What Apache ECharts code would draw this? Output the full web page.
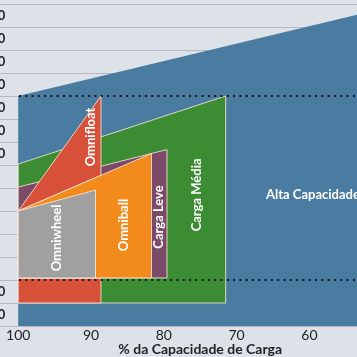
<!DOCTYPE html>
<html><head><meta charset="utf-8">
<script src="https://cdn.jsdelivr.net/npm/echarts@6/dist/echarts.min.js"></script>
<style>html,body{margin:0;padding:0;background:#dde2e9}#c{width:357px;height:357px}</style>
</head><body><div id="c"></div>
<script>
// ---- data (x: % da capacidade de carga, y: row units) ----
const rowLabels = ['10','20','','','','','','80','90','100','110','120','130','140'];
const altaCapacidade = [[100,0],[100,10],[50,13.8],[50,0]];
const cargaMedia = [[100,7.04],[71.5,10],[71.5,1],[100,1]];
const cargaLeve = [[100,6.04],[79.56,7.67],[79.56,2.09],[100,2.09]];
const omnifloat = [[100,5],[88.63,10],[88.63,6.55]];
const omnifloatBase = [[100,1],[88.63,1],[88.63,2.09],[100,2.09]];
const omniball = [[100,5],[81.69,7.5],[81.69,2.09],[100,2.09]];
const omniwheel = [[100,5],[89.38,5.91],[89.38,2.09],[100,2.09]];
const limitLevels = [10, 2];
const lineExtent = [102.5, 50];

// ---- layout ----
const FONT = 'Lato, "Open Sans", sans-serif';
const labelAnchor = {
  alta: [65.96, 5.7], media: [75.44, 5.7], leve: [80.66, 4.74],
  ball: [85.47, 4.39], wheel: [94.67, 3.83], float: [90.0, 8.22]
};
const BORDER = 'rgba(255,238,220,0.8)';

function shape(name, pts, color, label, anchor, vertical, align, stroke) {
  return {
    type: 'custom', name, coordinateSystem: 'cartesian2d', xAxisIndex: 0, yAxisIndex: 0,
    silent: true, clip: false,
    data: [anchor || pts[0]],
    renderItem: function (params, api) {
      const points = pts.map(p => api.coord(p));
      const children = [{ type: 'polygon', shape: { points },
        style: { fill: color, stroke: stroke === false ? null : BORDER, lineWidth: 1 } }];
      if (label) {
        const c = api.coord(anchor);
        children.push({ type: 'text', x: c[0], y: c[1], rotation: vertical ? Math.PI / 2 : 0, z2: 10,
          style: { text: label, fill: '#ffffff', font: 'bold 13px ' + FONT,
            align: align || 'center', verticalAlign: 'middle' } });
      }
      return { type: 'group', children };
    }
  };
}
function dotted(level) {
  return { type: 'line', xAxisIndex: 0, yAxisIndex: 0, silent: true, clip: false, showSymbol: false, symbol: 'none',
    data: [[lineExtent[0], level], [lineExtent[1], level]],
    lineStyle: { color: '#151515', width: 2, type: [2, 4.3] } };
}

const chart = echarts.init(document.getElementById('c'), null, { renderer: 'canvas' });
chart.setOption({
  backgroundColor: '#dde2e9',
  animation: false,
  grid: { left: 18.2, right: -25.2, top: 4, bottom: 31, containLabel: false, outerBoundsMode: 'none' },
  xAxis: {
    type: 'value', inverse: true, min: 50, max: 100, interval: 10,
    axisLine: { show: false }, axisTick: { show: false }, splitLine: { show: false },
    axisLabel: { color: '#222', fontSize: 14, margin: 2, fontFamily: FONT },
    name: '% da Capacidade de Carga', nameLocation: 'middle', nameGap: 16, nameMoveOverlap: false,
    nameTextStyle: { color: '#222', fontSize: 14, fontWeight: 'bold', fontFamily: FONT }
  },
  yAxis: [
    { type: 'value', min: 0, max: 14, show: false, splitLine: { show: false } },
    { type: 'category', data: rowLabels, position: 'left',
      axisLine: { show: false },
      axisTick: { show: true, length: 18, lineStyle: { color: '#b6bbc3', width: 1 } },
      splitLine: { show: true, lineStyle: { color: '#b6bbc3', width: 1 } },
      axisLabel: { color: '#222', fontSize: 13, fontWeight: 'bold', margin: 13, fontFamily: FONT } }
  ],
  series: [
    shape('Alta Capacidade', altaCapacidade, '#4a7ba0', 'Alta Capacidade', labelAnchor.alta, false, 'left', false),
    shape('Carga Média', cargaMedia, '#3c8c33', 'Carga Média', labelAnchor.media, true),
    dotted(limitLevels[0]),
    dotted(limitLevels[1]),
    shape('base', omnifloatBase, '#d6503a'),
    shape('Carga Leve', cargaLeve, '#7b4a68', 'Carga Leve', labelAnchor.leve, true),
    shape('Omnifloat', omnifloat, '#d6503a', 'Omnifloat', labelAnchor.float, true),
    shape('Omniball', omniball, '#f28a1c', 'Omniball', labelAnchor.ball, true),
    shape('Omniwheel', omniwheel, '#a0a0a0', 'Omniwheel', labelAnchor.wheel, true)
  ]
});
</script></body></html>
